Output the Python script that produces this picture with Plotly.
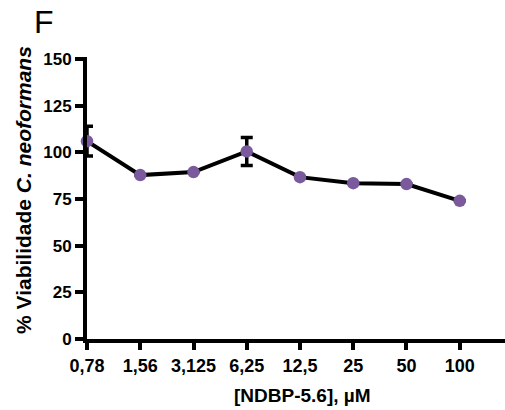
import plotly.graph_objects as go

categories = ["0,78", "1,56", "3,125", "6,25", "12,5", "25", "50", "100"]
viability = [106, 87.8, 89.4, 100.5, 86.7, 83.5, 83, 74]
errors = [8, 0, 0, 7.5, 0, 0, 0, 0]
y_ticks = [0, 25, 50, 75, 100, 125, 150]

xpos = list(range(len(categories)))

fig = go.Figure()
fig.add_trace(go.Scatter(
    x=xpos, y=viability,
    mode="lines+markers",
    line=dict(color="black", width=4),
    marker=dict(color="#7A5A9C", size=12.5),
    error_y=dict(type="data", array=errors, visible=True, color="black", thickness=3.5, width=6),
    cliponaxis=False,
    showlegend=False,
))

font = "Liberation Sans, Arial, sans-serif"
fig.update_layout(
    width=505, height=410,
    margin=dict(l=87, r=0, t=57, b=71),
    paper_bgcolor="white", plot_bgcolor="white",
    font=dict(family=font, color="black"),
    xaxis=dict(
        range=[0, 7.85], tickmode="array", tickvals=xpos, ticktext=categories,
        showline=True, linecolor="black", linewidth=4,
        ticks="outside", ticklen=7, tickwidth=4, tickcolor="black",
        showgrid=False, zeroline=False,
        tickfont=dict(size=18, family=font, weight="bold"),
    ),
    yaxis=dict(
        range=[0, 151.07], tickmode="array", tickvals=y_ticks,
        showline=True, linecolor="black", linewidth=4,
        ticks="outside", ticklen=8, tickwidth=4, tickcolor="black",
        showgrid=False, zeroline=False,
        tickfont=dict(size=17, family=font, weight="bold"),
    ),
    annotations=[
        dict(text="F", x=0, y=1, xref="paper", yref="paper", xanchor="left", yanchor="top",
             xshift=-55, yshift=55, showarrow=False, font=dict(size=32, family=font)),
        dict(text="<b>[NDBP-5.6], µM</b>", x=0.5, y=0, xref="paper", yref="paper",
             xanchor="center", yanchor="top", xshift=6, yshift=-44, showarrow=False,
             font=dict(size=19, family=font)),
        dict(text="<b>% Viabilidade <i>C. neoformans</i></b>", x=0, y=0.5, xref="paper", yref="paper",
             xanchor="center", yanchor="middle", xshift=-64, yshift=8, textangle=-90, showarrow=False,
             font=dict(size=21, family=font)),
    ],
)
fig.write_html("out.html")
